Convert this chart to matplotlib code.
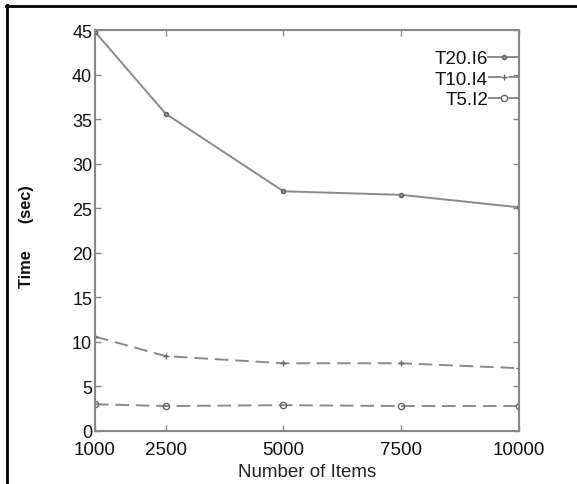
import matplotlib
matplotlib.use("Agg")
import matplotlib.pyplot as plt
from matplotlib.lines import Line2D
from matplotlib.legend_handler import HandlerLine2D

plt.rcParams['font.family'] = ['Liberation Sans', 'DejaVu Sans']

items = [1000, 2500, 5000, 7500, 10000]
t20_i6 = [44.8, 35.6, 26.9, 26.5, 25.1]
t10_i4 = [10.6, 8.4, 7.6, 7.6, 7.05]
t5_i2 = [3.0, 2.8, 2.9, 2.8, 2.8]
labels = ["T20.I6", "T10.I4", "T5.I2"]
yticks = [0, 5, 10, 15, 20, 25, 30, 35, 40, 45]


class LeftMarkerHandler(HandlerLine2D):
    def get_xdata(self, legend, xdescent, ydescent, width, height, fontsize):
        xdata = [-xdescent, -xdescent + width]
        xmark = [-xdescent + 0.22 * width]
        return xdata, xmark


W, H = 577, 485
fig = plt.figure(figsize=(W / 100, H / 100), dpi=100)
ax = fig.add_axes([95 / W, 1 - 432 / H, (519 - 95) / W, (432 - 31) / H])

gray = '#8a8a8a'
dash = (0, (7, 3.5))
l1, = ax.plot(items, t20_i6, color=gray, lw=1.4, marker='o', ms=3,
              mfc=gray, mec='#666666', label=labels[0])
l2, = ax.plot(items, t10_i4, color=gray, lw=1.4, ls=dash, marker='+', ms=5,
              mec='#666666', label=labels[1])
l3, = ax.plot(items, t5_i2, color=gray, lw=1.4, ls=dash, marker='o', ms=4.5,
              mfc='none', mec='#666666', label=labels[2])

ax.set_xlim(1000, 10000)
ax.set_ylim(0, 45)
ax.set_xticks(items)
ax.set_xticklabels([str(v) for v in items])
ax.set_yticks(yticks)
ax.tick_params(direction='in', length=4, width=1, color='#888888',
               top=True, right=True, labelsize=13, labelcolor='#111111', pad=2)
ax.tick_params(axis='x', labelsize=13.5, pad=7)
for s in ax.spines.values():
    s.set_color('#888888')
    s.set_linewidth(1.5)

ax.set_xlabel("Number of Items", fontsize=13.5, color='#222222', labelpad=4)
fig.text(27 / W, 1 - 237 / H, "Time      (sec)", rotation=90, fontsize=11.8,
         fontweight='bold', ha='center', va='center', color='#111111')

hm = {l1: LeftMarkerHandler(), l2: LeftMarkerHandler(), l3: LeftMarkerHandler()}
leg = ax.legend(loc='upper right', bbox_to_anchor=(1.0, 1 - 20 / 401),
                frameon=False, markerfirst=False, fontsize=13.5,
                handlelength=1.65, handletextpad=0.0, labelspacing=0.18,
                borderaxespad=0.0, borderpad=0.0, handler_map=hm)
for t in leg.get_texts():
    t.set_color('#111111')
    t.set_ha('right')

# outer frame (only left and top visible)
fig.add_artist(Line2D([7 / W, 7 / W], [0, 1 - 6 / H], transform=fig.transFigure,
                      color='black', lw=2))
fig.add_artist(Line2D([6 / W, 1], [1 - 7 / H, 1 - 7 / H], transform=fig.transFigure,
                      color='black', lw=2))

fig.savefig("out.png", dpi=100)
